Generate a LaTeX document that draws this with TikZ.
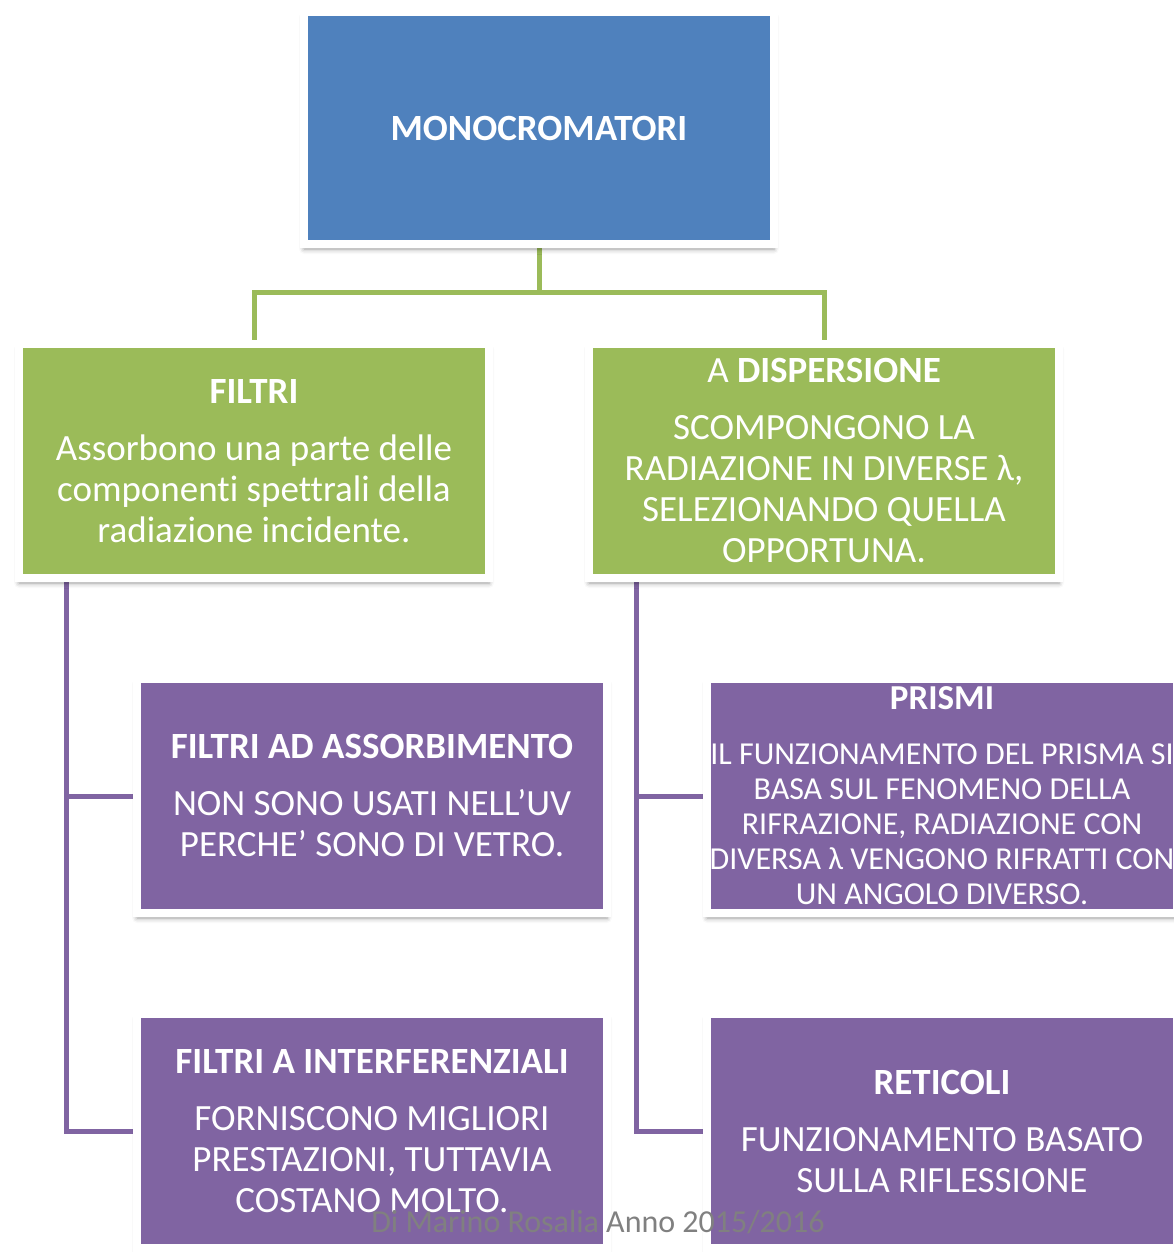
\documentclass[tikz,border=0pt]{standalone}
\usepackage{fontspec}
\setmainfont{Carlito}[Ligatures=CommonOff]
\usetikzlibrary{positioning,backgrounds,shadows.blur}
\definecolor{monoblue}{HTML}{4F81BD}
\definecolor{levelgreen}{HTML}{9BBB59}
\definecolor{leafpurple}{HTML}{8064A2}
\def\bodyfont{\fontsize{37}{41}\selectfont}
\def\smallbody{\fontsize{32}{35}\selectfont}
\tikzset{
	box/.style={draw=white, line width=8pt, minimum width=470pt, minimum height=234pt, inner sep=0pt,
		text=white, align=center, font=\bodyfont,
		blur shadow={shadow xshift=0pt, shadow yshift=-5pt, shadow blur radius=5pt, shadow opacity=40}},
	monobox/.style={box, fill=monoblue, minimum height=232pt},
	greenbox/.style={box, fill=levelgreen},
	purplebox/.style={box, fill=leafpurple},
	greenline/.style={draw=levelgreen, line width=5pt},
	purpleline/.style={draw=leafpurple, line width=5pt}
}

\begin{document}
\begin{tikzpicture}[x=1pt, y=-1pt]
		%%%%% START %%%%%
		\useasboundingbox (0, 0) rectangle (1174, 1252);
		
		\node[monobox] (mono) at (539, 128) {\textbf{MONOCROMATORI}};
		
		\node[greenbox] (filtri) at (254, 461) {\textbf{FILTRI}\\[16pt]Assorbono una parte delle\\componenti spettrali della\\radiazione incidente.};
		\node[greenbox] (disp) at (824, 461) {A \textbf{DISPERSIONE}\\[16pt]SCOMPONGONO LA\\RADIAZIONE IN DIVERSE λ,\\SELEZIONANDO QUELLA\\OPPORTUNA.};
		
		\node[purplebox] (assorb) at (372, 796) {\textbf{FILTRI AD ASSORBIMENTO}\\[16pt]NON SONO USATI NELL’UV\\PERCHE’ SONO DI VETRO.};
		\node[purplebox] (interf) at (372, 1131) {\textbf{FILTRI A INTERFERENZIALI}\\[16pt]FORNISCONO MIGLIORI\\PRESTAZIONI, TUTTAVIA\\COSTANO MOLTO.};
		
		\node[purplebox, font=\smallbody, inner ysep=-40pt] (prismi) at (942, 796) {\textbf{\fontsize{35}{35}\selectfont PRISMI}\\[20pt]IL FUNZIONAMENTO DEL PRISMA SI\\BASA SUL FENOMENO DELLA\\RIFRAZIONE, RADIAZIONE CON\\DIVERSA λ VENGONO RIFRATTI CON\\UN ANGOLO DIVERSO.};
		\node[purplebox] (reticoli) at (942, 1131) {\textbf{RETICOLI}\\[16pt]FUNZIONAMENTO BASATO\\SULLA RIFLESSIONE};
		
		\begin{pgfonlayer}{background}
			\draw[greenline] (mono.south) -- ++(0, 44) -| (filtri.north);
			\draw[greenline] (mono.south) -- ++(0, 44) -| (disp.north);
			
			\draw[purpleline] ([xshift=51pt]filtri.south west) |- (assorb.west);
			\draw[purpleline] ([xshift=51pt]filtri.south west) |- (interf.west);
			\draw[purpleline] ([xshift=51pt]disp.south west) |- (prismi.west);
			\draw[purpleline] ([xshift=51pt]disp.south west) |- (reticoli.west);
		\end{pgfonlayer}
		
		\node[text=black!50, font=\fontsize{32}{38}\selectfont] (footer) at (598, 1222) {Di Marino Rosalia Anno 2015/2016};
		%%%%% END %%%%%
\end{tikzpicture}
\end{document}
